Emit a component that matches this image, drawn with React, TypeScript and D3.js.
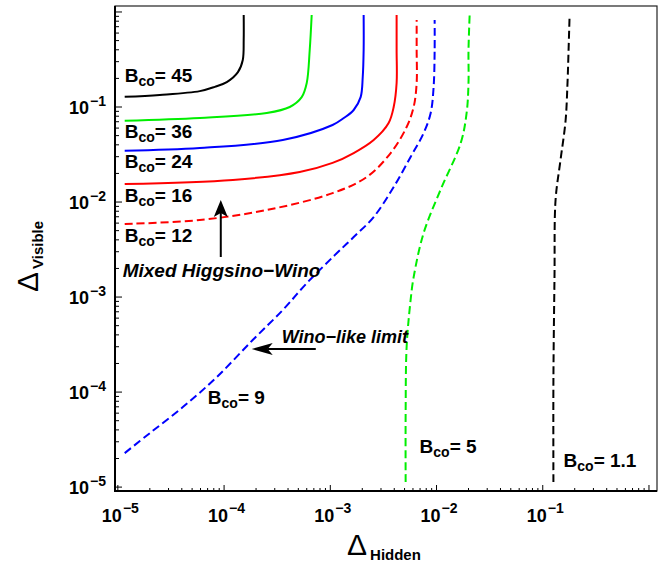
import React from 'react';
import * as d3 from 'd3';

const W = 668;
const H = 565;
const FONT = 'Liberation Sans, Arial, Helvetica, sans-serif';

// axis ranges (log scale)
const xDomain = [9.4e-6, 1.19];
const yDomain = [9.1e-6, 1.156];
const labelDecades = [-5, -4, -3, -2, -1];

// contour lines: Delta_Hidden (x) vs Delta_Visible (y)
const b45Hidden = [1.16e-5, 2.48e-5, 5.91e-5, 8.18e-5, 1.06e-4, 1.35e-4, 1.5e-4, 1.53e-4, 1.53e-4];
const b45Visible = [0.128, 0.134, 0.147, 0.163, 0.183, 0.233, 0.313, 0.507, 0.929];

const b36Hidden = [1.16e-5, 5.91e-5, 2.52e-4, 4.15e-4, 5.38e-4, 6.0e-4, 6.4e-4, 6.68e-4];
const b36Visible = [0.0717, 0.0766, 0.0865, 0.1, 0.127, 0.179, 0.398, 0.929];

const b24Hidden = [1.16e-5, 5.91e-5, 3.57e-4, 1.05e-3, 1.34e-3, 1.66e-3, 1.93e-3, 2.02e-3, 2.06e-3, 2.06e-3];
const b24Visible = [0.0347, 0.037, 0.045, 0.0647, 0.0766, 0.093, 0.127, 0.207, 0.398, 0.929];

const b16Hidden = [1.16e-5, 1.21e-4, 5.15e-4, 1.05e-3, 1.66e-3, 2.56e-3, 3.54e-3, 3.95e-3, 4.21e-3, 4.21e-3, 4.21e-3];
const b16Visible = [0.0155, 0.0171, 0.0207, 0.0258, 0.0328, 0.045, 0.0679, 0.1, 0.179, 0.398, 0.929];

const b12Hidden = [1.16e-5, 5.91e-5, 2.52e-4, 1.05e-3, 2.2e-3, 3.7e-3, 5.23e-3, 6.09e-3, 6.5e-3, 6.5e-3, 6.5e-3];
const b12Visible = [0.00587, 0.00647, 0.00824, 0.0124, 0.0183, 0.0328, 0.0616, 0.1, 0.179, 0.398, 0.824];

const b9Hidden = [1.16e-5, 2.0e-5, 4.09e-5, 8.54e-5, 1.86e-4, 3.57e-4, 6.0e-4, 1.08e-3, 1.66e-3, 2.56e-3, 3.95e-3, 5.7e-3, 7.56e-3, 8.81e-3, 9.39e-3, 9.6e-3, 9.6e-3];
const b9Visible = [2.28e-5, 3.7e-5, 6.95e-5, 1.44e-4, 3.53e-4, 7.3e-4, 1.4e-3, 2.7e-3, 4.28e-3, 6.95e-3, 0.0144, 0.0298, 0.0532, 0.0865, 0.163, 0.398, 0.824];

const b5Hidden = [5.12e-3, 5.12e-3, 5.23e-3, 5.7e-3, 6.09e-3, 7.56e-3, 1.09e-2, 1.69e-2, 1.92e-2, 2.0e-2, 2.0e-2, 2.05e-2];
const b5Visible = [1.13e-5, 6.01e-5, 2.98e-4, 9.29e-4, 1.62e-3, 4.72e-3, 0.0134, 0.0418, 0.0865, 0.179, 0.398, 0.929];

const b11Hidden = [0.126, 0.126, 0.129, 0.132, 0.147, 0.164, 0.171, 0.175, 0.179];
const b11Visible = [1.13e-5, 1.34e-4, 1.62e-3, 0.0105, 0.0277, 0.0717, 0.179, 0.398, 0.929];

const curves = [
  { hidden: b45Hidden, visible: b45Visible, color: '#000000', dashed: false },
  { hidden: b36Hidden, visible: b36Visible, color: '#00ee00', dashed: false },
  { hidden: b24Hidden, visible: b24Visible, color: '#0000ff', dashed: false },
  { hidden: b16Hidden, visible: b16Visible, color: '#ff0000', dashed: false },
  { hidden: b12Hidden, visible: b12Visible, color: '#ff0000', dashed: true },
  { hidden: b9Hidden, visible: b9Visible, color: '#0000ff', dashed: true },
  { hidden: b5Hidden, visible: b5Visible, color: '#00ee00', dashed: true },
  { hidden: b11Hidden, visible: b11Visible, color: '#000000', dashed: true },
];

// B_co labels, anchored in data coordinates
const labelValues = ['45', '36', '24', '16', '12', '9', '5', '1.1'];
const labelHidden = [1.16e-5, 1.16e-5, 1.16e-5, 1.16e-5, 1.16e-5, 7.03e-5, 6.93e-3, 0.157];
const labelVisible = [0.183, 0.0472, 0.0228, 0.01, 0.00379, 7.48e-5, 2.28e-5, 1.63e-5];

// annotations
const mixedAt = [1.11e-5, 1.62e-3];
const mixedArrow = [9.31e-5, 2.64e-3, 0.0105]; // x, from y, to y
const winoAt = [3.49e-4, 3.28e-4];
const winoArrow = [7.3e-4, 1.82e-4, 2.84e-4]; // from x, to x, y

export default function App() {
  const x = d3.scaleLog().domain(xDomain).range([115, 657]);
  const y = d3.scaleLog().domain(yDomain).range([491, 6]);

  const line = d3
    .line<[number, number]>()
    .x((d) => x(d[0]))
    .y((d) => y(d[1]))
    .curve(d3.curveCatmullRom.alpha(0.5));

  const minor = (dom: number[]) => {
    const out: { v: number; major: boolean }[] = [];
    for (let k = -6; k <= 0; k++) {
      for (let m = 1; m <= 9; m++) {
        const v = m * Math.pow(10, k);
        if (v >= dom[0] && v <= dom[1]) out.push({ v, major: m === 1 });
      }
    }
    return out;
  };

  const xTicks = minor(xDomain);
  const yTicks = minor(yDomain);

  // arrow geometry
  const ax = x(mixedArrow[0]);
  const ay0 = y(mixedArrow[1]);
  const ay1 = y(mixedArrow[2]);
  const wx0 = x(winoArrow[0]);
  const wx1 = x(winoArrow[1]);
  const wy = y(winoArrow[2]);

  return (
    <svg
      width={W}
      height={H}
      style={{ position: 'absolute', left: 0, top: 0, background: '#fff' }}
      fontFamily={FONT}
    >
      <rect x={0} y={0} width={W} height={H} fill="#fff" />

      {curves.map((c, i) => (
        <path
          key={i}
          d={line(c.hidden.map((h, j) => [h, c.visible[j]]) as [number, number][]) || ''}
          fill="none"
          stroke={c.color}
          strokeWidth={2}
          strokeDasharray={c.dashed ? '8,4' : undefined}
        />
      ))}

      {/* frame */}
      <rect x={115} y={6} width={542} height={485} fill="none" stroke="#222" strokeWidth={1.2} />
      <line x1={115} x2={115} y1={6} y2={492} stroke="#000" strokeWidth={2} />
      <line x1={114} x2={657} y1={491} y2={491} stroke="#000" strokeWidth={2} />

      {/* ticks */}
      {xTicks.map((t, i) => (
        <line key={'xt' + i} x1={x(t.v)} x2={x(t.v)} y1={491} y2={491 - (t.major ? 6 : 3)} stroke="#000" strokeWidth={1} />
      ))}
      {yTicks.map((t, i) => (
        <line key={'yt' + i} x1={115} x2={115 + (t.major ? 7 : 4)} y1={y(t.v)} y2={y(t.v)} stroke="#000" strokeWidth={1} />
      ))}

      {/* tick labels */}
      {labelDecades.map((k) => (
        <text key={'xl' + k} x={x(Math.pow(10, k)) - 16} y={522} fontSize={18} fontWeight="bold">
          10
          <tspan dx={1} dy={-9} fontSize={14}>
            {'\u2212' + -k}
          </tspan>
        </text>
      ))}
      {labelDecades.map((k) => (
        <text key={'yl' + k} x={106} y={y(Math.pow(10, k)) + 7} fontSize={18} fontWeight="bold" textAnchor="end">
          10
          <tspan dx={1} dy={-8} fontSize={14}>
            {'\u2212' + -k}
          </tspan>
        </text>
      ))}

      {/* axis titles */}
      <text x={347} y={555} fontSize={30}>
        {'\u0394'}
        <tspan dx={3} dy={5} fontSize={15} fontWeight="bold">
          Hidden
        </tspan>
      </text>
      <text transform="translate(38,292) rotate(-90)" fontSize={30}>
        {'\u0394'}
        <tspan dx={3} dy={5} fontSize={15} fontWeight="bold">
          Visible
        </tspan>
      </text>

      {/* B_co labels */}
      {labelValues.map((v, i) => (
        <text key={'bl' + i} x={x(labelHidden[i])} y={y(labelVisible[i])} fontSize={19} fontWeight="bold">
          B
          <tspan dy={4} fontSize={14}>
            co
          </tspan>
          <tspan dy={-4}>{'= ' + v}</tspan>
        </text>
      ))}

      {/* annotations */}
      <text x={x(mixedAt[0])} y={y(mixedAt[1])} fontSize={19} fontWeight="bold" fontStyle="italic">
        Mixed Higgsino{'\u2212'}Wino
      </text>
      <line x1={ax} x2={ax} y1={ay0} y2={ay1 + 12} stroke="#000" strokeWidth={2} />
      <path
        d={`M${ax},${ay1} L${ax - 7},${ay1 + 17} L${ax},${ay1 + 13} L${ax + 7},${ay1 + 17} Z`}
        fill="#000"
      />

      <text x={x(winoAt[0])} y={y(winoAt[1])} fontSize={18} fontWeight="bold" fontStyle="italic">
        Wino{'\u2212'}like limit
      </text>
      <line x1={wx0} x2={wx1 + 16} y1={wy} y2={wy} stroke="#000" strokeWidth={2} />
      <path
        d={`M${wx1},${wy} L${wx1 + 21},${wy - 6} L${wx1 + 16},${wy} L${wx1 + 21},${wy + 6} Z`}
        fill="#000"
      />
    </svg>
  );
}
